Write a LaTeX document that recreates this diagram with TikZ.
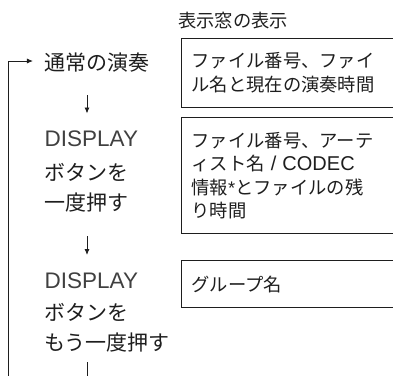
\documentclass[tikz,border=0pt]{standalone}
\usepackage{fontspec}
\setmainfont{Noto Sans CJK JP}
\newfontfamily\latfont{Liberation Sans}
\usetikzlibrary{arrows.meta}
\definecolor{ink}{HTML}{1E1E1E}
\begin{document}
\begin{tikzpicture}[x=1bp,y=-1bp,
  lbl/.style={font=\fontsize{21bp}{28bp}\selectfont, anchor=base west, inner sep=0pt, text=ink},
  latlbl/.style={font=\latfont\fontsize{22.5bp}{28bp}\selectfont, anchor=base west, inner sep=0pt, text=ink!85},
  hdr/.style={font=\fontsize{18.3bp}{23bp}\selectfont, anchor=base west, inner sep=0pt, text=ink},
  box/.style={draw=ink, line width=1.1bp, anchor=north west, align=left,
    text width=210bp, inner xsep=10bp, inner ysep=0pt,
    font=\fontsize{18.3bp}{23.5bp}\selectfont, text=ink},
  arr/.style={draw=ink, line width=0.9bp, -{Latex[length=6bp,width=5bp]}},
  plain/.style={draw=ink, line width=0.9bp}]
\useasboundingbox (0,0) rectangle (393,376);
\clip (0,0) rectangle (393,376);

% header
\node[hdr] (head) at (178,27) {表示窓の表示};

% left column
\node[lbl] (n1) at (44,70) {通常の演奏};
\node[latlbl] (d1) at (44.5,146.5) {DISPLAY};
\node[lbl] (b1) at (44,180.5) {ボタンを};
\node[lbl] (p1) at (44,210.5) {一度押す};
\node[latlbl] (d2) at (44.5,288.5) {DISPLAY};
\node[lbl] (b2) at (44,320.5) {ボタンを};
\node[lbl] (p2) at (44,350.5) {もう一度押す};

% boxes
\node[box, minimum height=69bp] (box1) at (181,37.5)
  {ファイル番号、ファイ\\ル名と現在の演奏時間};
\node[box, minimum height=116bp] (box2) at (181,117)
  {ファイル番号、アーテ\\ィスト名{\latfont\fontsize{20bp}{23.5bp}\selectfont{} / CODEC}\\情報{\latfont *}とファイルの残\\り時間};
\node[box, minimum height=47bp] (box3) at (181,260)
  {グループ名};

% arrows
\coordinate (a1s) at (87,95);
\coordinate (a1e) at (87,113.5);
\coordinate (a2s) at (87,236);
\coordinate (a2e) at (87,255);
\draw[arr] (a1s) -- (a1e);
\draw[arr] (a2s) -- (a2e);

\coordinate (tailtop) at (87,362);
\coordinate (tailbot) at (87,380);
\draw[plain] (tailtop) -- (tailbot);

\coordinate (loopbot) at (8,380);
\coordinate (looptip) at (33,61);
\draw[arr] (loopbot) |- (looptip);
\end{tikzpicture}
\end{document}
